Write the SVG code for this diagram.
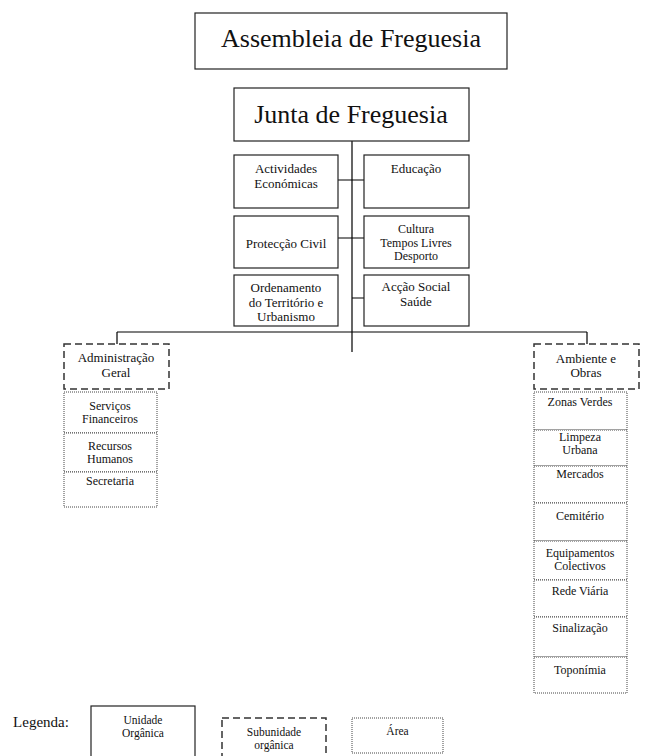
<svg xmlns="http://www.w3.org/2000/svg" width="646" height="756" viewBox="0 0 646 756">
<style>
text{font-family:"Liberation Serif","Times New Roman",serif;fill:#111;text-anchor:middle}
.unit{fill:#fff;stroke:#222;stroke-width:1.2}
.sub{fill:#fff;stroke:#333;stroke-width:1.5;stroke-dasharray:7 4}
.area{fill:#fff;stroke:#444;stroke-width:1;stroke-dasharray:1 1}
.big{font-size:26px}
.m{font-size:13px}
.s{font-size:12px}
.l{font-size:11.5px}
.conn{stroke:#000;stroke-width:1.2;fill:none}
</style>
<g id="connectors">
<path class="conn" d="M352 141V352M338 180H364M338 238H364M352 298H364M117 332H587M117 332V344M587 332V344"/>
</g>
<g id="assembleia"><rect class="unit" x="195" y="13" width="312" height="56"/><text class="big" x="351" y="47">Assembleia de Freguesia</text></g>
<g id="junta"><rect class="unit" x="234" y="88" width="235" height="53"/><text class="big" x="351" y="123">Junta de Freguesia</text></g>
<g id="actividades"><rect class="unit" x="234" y="155" width="104" height="53"/><text class="m" x="286" y="173">Actividades</text><text class="m" x="286" y="188">Económicas</text></g>
<g id="educacao"><rect class="unit" x="364" y="155" width="105" height="53"/><text class="m" x="416" y="173">Educação</text></g>
<g id="proteccao"><rect class="unit" x="234" y="216" width="104" height="52"/><text class="m" x="286" y="248">Protecção Civil</text></g>
<g id="cultura"><rect class="unit" x="364" y="216" width="105" height="52"/><text class="s" x="416" y="233">Cultura</text><text class="s" x="416" y="247">Tempos Livres</text><text class="s" x="416" y="260">Desporto</text></g>
<g id="ordenamento"><rect class="unit" x="234" y="275" width="104" height="51"/><text class="m" x="286" y="292">Ordenamento</text><text class="m" x="286" y="307">do Território e</text><text class="m" x="286" y="321">Urbanismo</text></g>
<g id="accao"><rect class="unit" x="364" y="275" width="105" height="51"/><text class="m" x="416" y="291">Acção Social</text><text class="m" x="416" y="306">Saúde</text></g>
<g id="administracao"><rect class="sub" x="64" y="344" width="105" height="45"/><text class="m" x="116" y="362">Administração</text><text class="m" x="116" y="377">Geral</text></g>
<g id="servicos"><rect class="area" x="64" y="392" width="93" height="41"/><text class="s" x="110" y="410">Serviços</text><text class="s" x="110" y="423">Financeiros</text></g>
<g id="recursos"><rect class="area" x="64" y="433" width="93" height="39"/><text class="s" x="110" y="450">Recursos</text><text class="s" x="110" y="463">Humanos</text></g>
<g id="secretaria"><rect class="area" x="64" y="472" width="93" height="35"/><text class="s" x="110" y="485">Secretaria</text></g>
<g id="ambiente"><rect class="sub" x="534" y="344" width="105" height="45"/><text class="m" x="586" y="363">Ambiente e</text><text class="m" x="586" y="377">Obras</text></g>
<g id="zonas"><rect class="area" x="534" y="392" width="93" height="38"/><text class="s" x="580" y="406">Zonas Verdes</text></g>
<g id="limpeza"><rect class="area" x="534" y="430" width="93" height="36"/><text class="s" x="580" y="441">Limpeza</text><text class="s" x="580" y="454">Urbana</text></g>
<g id="mercados"><rect class="area" x="534" y="466" width="93" height="37"/><text class="s" x="580" y="478">Mercados</text></g>
<g id="cemiterio"><rect class="area" x="534" y="503" width="93" height="38"/><text class="s" x="580" y="520">Cemitério</text></g>
<g id="equipamentos"><rect class="area" x="534" y="541" width="93" height="39"/><text class="s" x="580" y="557">Equipamentos</text><text class="s" x="580" y="570">Colectivos</text></g>
<g id="rede"><rect class="area" x="534" y="580" width="93" height="37"/><text class="s" x="580" y="595">Rede Viária</text></g>
<g id="sinalizacao"><rect class="area" x="534" y="617" width="93" height="40"/><text class="s" x="580" y="632">Sinalização</text></g>
<g id="toponimia"><rect class="area" x="534" y="657" width="93" height="36"/><text class="s" x="580" y="674">Toponímia</text></g>
<g id="legenda"><text x="41" y="727" style="font-size:15px">Legenda:</text></g>
<g id="leg-unidade"><rect class="unit" x="91" y="706" width="104" height="70"/><text class="l" x="143" y="724">Unidade</text><text class="l" x="143" y="737">Orgânica</text></g>
<g id="leg-subunidade"><rect class="sub" x="222" y="718" width="104" height="60"/><text class="l" x="274" y="736">Subunidade</text><text class="l" x="274" y="749">orgânica</text></g>
<g id="leg-area"><rect class="area" x="352" y="718" width="91" height="35"/><text class="l" x="397.5" y="735">Área</text></g>
</svg>
